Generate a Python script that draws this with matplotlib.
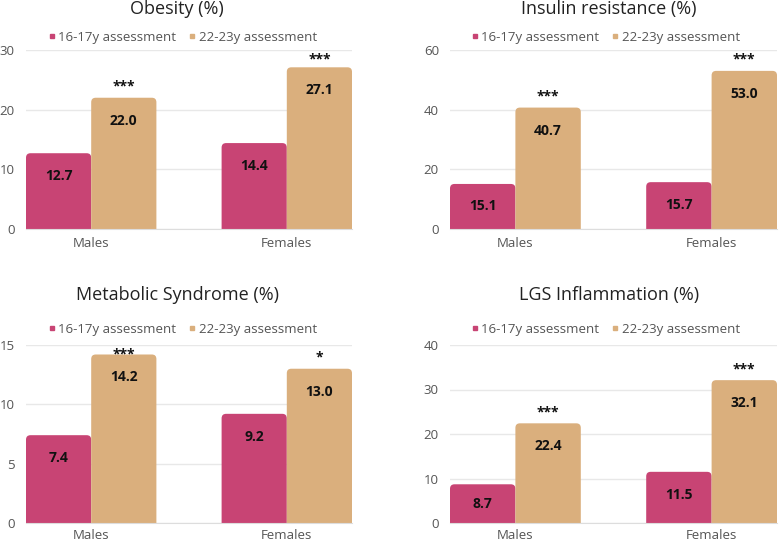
import numpy as np
import matplotlib
matplotlib.use("Agg")
import matplotlib.pyplot as plt
from matplotlib.patches import FancyBboxPatch
from matplotlib.lines import Line2D

plt.rcParams["font.family"] = ["Open Sans", "DejaVu Sans"]

groups = ["Males", "Females"]
series = ["16-17y assessment", "22-23y assessment"]
colors = ["#C84474", "#DAAF7D"]

titles = ["Obesity (%)", "Insulin resistance (%)",
          "Metabolic Syndrome (%)", "LGS Inflammation (%)"]
early = [[12.7, 14.4], [15.1, 15.7], [7.4, 9.2], [8.7, 11.5]]
late = [[22.0, 27.1], [40.7, 53.0], [14.2, 13.0], [22.4, 32.1]]
stars = [["***", "***"], ["***", "***"], ["***", "*"], ["***", "***"]]
yticks = [[0, 10, 20, 30], [0, 20, 40, 60], [0, 5, 10, 15], [0, 10, 20, 30, 40]]

W, H, DPI = 780, 545, 100
fig = plt.figure(figsize=(W / DPI, H / DPI), dpi=DPI)

# axes boxes in pixels: left, top, right, bottom
boxes = [(26, 50, 352, 229), (450, 50, 777, 229),
         (26, 345, 352, 523), (450, 345, 777, 523)]
title_xy = [(177, 9), (609, 9), (178, 295), (609, 295)]
legend_xy = [(183, 37), (606, 37), (183, 329), (606, 329)]

BW = 1 / 3
RAD = 4.5  # corner radius, px


def px2pt(p):
    return p * 72 / DPI


for i in range(4):
    l, t, r, b = boxes[i]
    ax = fig.add_axes([l / W, 1 - b / H, (r - l) / W, (b - t) / H])
    ax.set_xlim(-BW, 1 + BW)
    ax.set_ylim(0, yticks[i][-1])
    ax.set_yticks(yticks[i])
    ax.set_xticks(range(len(groups)))
    ax.set_xticklabels(groups)
    ax.tick_params(length=0, labelsize=9.5, labelcolor="#555555")
    ax.tick_params(axis="y", pad=8)
    ax.tick_params(axis="x", pad=6 if i < 2 else 4)
    ax.grid(axis="y", color="#e8e8e8", lw=1)
    ax.set_axisbelow(True)
    for s in ["top", "right", "left"]:
        ax.spines[s].set_visible(False)
    ax.spines["bottom"].set_color("#dddddd")

    xr = 1 + 2 * BW
    yr = yticks[i][-1]
    wpx, hpx = r - l, b - t
    rx = RAD * xr / wpx
    aspect = (yr / hpx) / (xr / wpx)
    ry = rx * aspect

    x = np.arange(len(groups))
    for k, vals in enumerate([early[i], late[i]]):
        bars = ax.bar(x + (k - 0.5) * BW, vals, BW, color=colors[k])
        for rect in bars.patches:
            x0, w, h = rect.get_x(), rect.get_width(), rect.get_height()
            rect.set_visible(False)
            ax.add_patch(FancyBboxPatch((x0, -2 * ry), w, h + 2 * ry,
                                        boxstyle=f"round,pad=0,rounding_size={rx}",
                                        mutation_aspect=aspect,
                                        fc=colors[k], ec="none", zorder=2))
            hp = h / yr * hpx
            off = min(23, hp / 2)
            ax.annotate(f"{h:.1f}", (x0 + w / 2, h), xytext=(0, -px2pt(off)),
                        textcoords="offset points", ha="center", va="center",
                        fontsize=10, fontweight="bold", color="#111111", zorder=3)

    for j, v in enumerate(late[i]):
        top_px = t + (1 - v / yr) * hpx
        sy = max(top_px - 11, t + 9)
        ax.annotate(stars[i][j], (x[j] + 0.5 * BW, v), xytext=(0, px2pt(top_px - sy)),
                    textcoords="offset points", ha="center", va="center",
                    fontsize=10, fontweight="bold", color="#111111",
                    annotation_clip=False)

    fig.text(title_xy[i][0] / W, 1 - title_xy[i][1] / H, titles[i],
             ha="center", va="center", fontsize=13, color="#222222")
    handles = [Line2D([], [], marker="s", ls="", color=c, markersize=2.5) for c in colors]
    fig.legend(handles, series, loc="center",
               bbox_to_anchor=(legend_xy[i][0] / W, 1 - legend_xy[i][1] / H),
               ncol=2, frameon=False, fontsize=9.5, handlelength=0.4,
               handletextpad=0.3, columnspacing=1.0, labelcolor="#555555",
               borderpad=0, borderaxespad=0)

fig.savefig("out.png", dpi=DPI)
